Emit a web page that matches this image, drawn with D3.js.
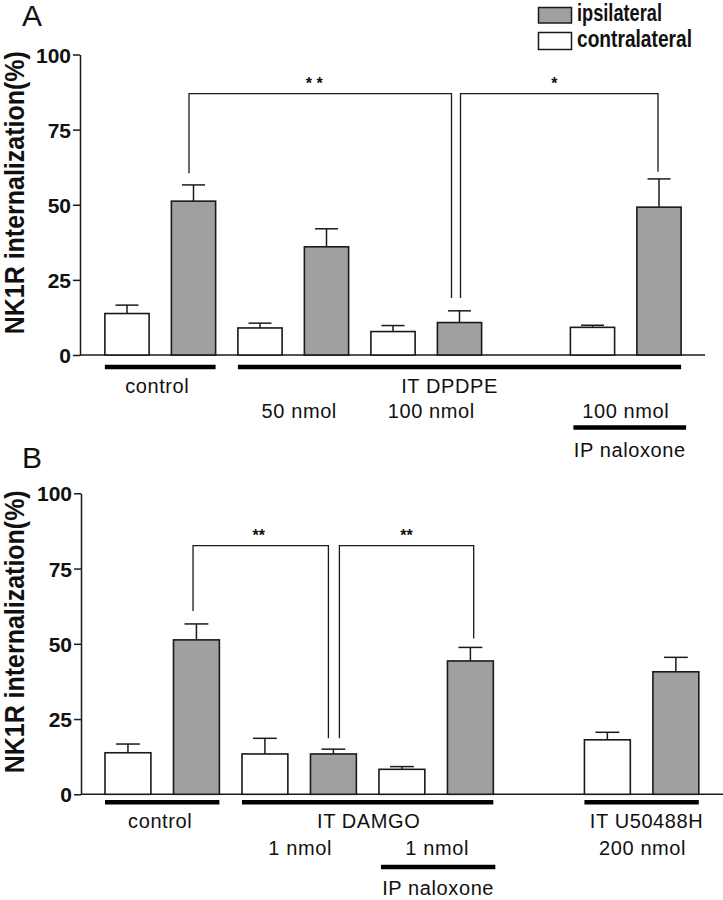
<!DOCTYPE html>
<html>
<head>
<meta charset="utf-8">
<script src="https://cdn.jsdelivr.net/npm/d3@7"></script>
<style>
  html, body { margin: 0; padding: 0; background: #fff; }
  svg { display: block; }
</style>
</head>
<body>
<svg id="chart" width="723" height="900"></svg>
<script>
// ---------- DATA ----------
const yTicks = [0, 25, 50, 75, 100];
const legendLabels = ["ipsilateral", "contralateral"];

// Panel A (IT DPDPE)
const condSlotsA = [0, 2, 4, 7];            // slot of contralateral bar; ipsilateral is slot+1
const contraA = [13.8, 9.0, 7.8, 9.2];
const contraErrA = [2.8, 1.6, 2.0, 0.7];
const ipsiA = [51.2, 36.0, 10.8, 49.2];
const ipsiErrA = [5.4, 6.0, 3.9, 9.4];

// Panel B (IT DAMGO / U50488H)
const condSlotsB = [0, 2, 4, 7];
const contraB = [13.8, 13.4, 8.3, 18.1];
const contraErrB = [2.9, 5.2, 0.9, 2.5];
const ipsiB = [51.3, 13.4, 44.3, 40.7];
const ipsiErrB = [5.3, 1.6, 4.5, 4.8];

// significance brackets: [fromSlot, toSlot, topValue, fromBottomValue, toBottomValue, label]
const bracketsA = [
  [1, 5, 87, 60.5, 19, "* *"],
  [5, 8, 87, 19, 61, "*"]
];
const bracketsB = [
  [1, 3, 82.6, 60.9, 18.6, "**"],
  [3, 5, 82.6, 18.6, 51.8, "**"]
];

// group annotations: [fromSlot, toSlot, text]
const groupsA = [
  [0, 1, "control"],
  [2, 8, "IT DPDPE"]
];
const subLabelsA = [[2, 3, "50 nmol"], [4, 5, "100 nmol"], [7, 8, "100 nmol"]];
const naloxoneA = [[7, 8, "IP naloxone"]];

const groupsB = [
  [0, 1, "control"],
  [2, 5, "IT DAMGO"],
  [7, 8, "IT U50488H"]
];
const subLabelsB = [[2, 3, "1 nmol"], [4, 5, "1 nmol"], [7, 8, "200 nmol"]];
const naloxoneB = [[4, 5, "IP naloxone"]];

const slotCount = 9;

// ---------- DRAW ----------
const svg = d3.select("#chart");
const GRAY = "#a0a0a0";
const DARK = "#1a1a1a";
const FONT = "Liberation Sans, Arial, Helvetica, sans-serif";

function panel(cfg) {
  const g = svg.append("g");
  const y = d3.scaleLinear().domain([0, 100]).range([cfg.y0, cfg.y100]);
  const x = d3.scaleBand().domain(d3.range(slotCount))
    .range(cfg.xRange).paddingInner(cfg.pad).paddingOuter(cfg.pad / 2);
  const bw = x.bandwidth();
  const cx = s => x(s) + bw / 2;

  // y axis
  const ax = g.append("g").attr("transform", `translate(${cfg.axisX},0)`)
    .call(d3.axisLeft(y).tickValues(yTicks).tickSize(7).tickSizeOuter(0).tickPadding(2));
  ax.select(".domain").attr("stroke", DARK).attr("stroke-width", 1.5);
  ax.selectAll(".tick line").attr("stroke", DARK).attr("stroke-width", 1.5);
  ax.selectAll(".tick text")
    .attr("font-family", FONT)
    .attr("font-weight", "bold").attr("font-size", 21).attr("fill", "#111")
    .attr("dy", "0.36em");

  // baseline
  g.append("line").attr("x1", cfg.axisX).attr("x2", cfg.baseEnd)
    .attr("y1", y(0)).attr("y2", y(0)).attr("stroke", DARK).attr("stroke-width", 1.5);

  // y label
  g.append("text")
    .attr("transform", `translate(${cfg.labelX},${(y(0) + y(100)) / 2 - 12}) rotate(-90)`)
    .attr("text-anchor", "middle")
    .attr("font-family", FONT)
    .attr("font-weight", "bold").attr("font-size", 27)
    .attr("textLength", 283).attr("lengthAdjust", "spacingAndGlyphs")
    .attr("fill", "#111")
    .text("NK1R internalization(%)");

  // panel letter
  g.append("text").attr("x", 22).attr("y", cfg.letterY)
    .attr("font-family", FONT)
    .attr("font-size", 30).attr("fill", "#111").text(cfg.letter);

  // bars
  const bars = [];
  cfg.slots.forEach((s, i) => {
    bars.push({ slot: s, v: cfg.contra[i], e: cfg.contraErr[i], fill: "#fff" });
    bars.push({ slot: s + 1, v: cfg.ipsi[i], e: cfg.ipsiErr[i], fill: GRAY });
  });
  g.selectAll(".err").data(bars).join("line")
    .attr("x1", d => cx(d.slot)).attr("x2", d => cx(d.slot))
    .attr("y1", d => y(d.v)).attr("y2", d => y(d.v + d.e))
    .attr("stroke", DARK).attr("stroke-width", 1.5);
  g.selectAll(".cap").data(bars).join("line")
    .attr("x1", d => cx(d.slot) - bw * 0.26).attr("x2", d => cx(d.slot) + bw * 0.26)
    .attr("y1", d => y(d.v + d.e)).attr("y2", d => y(d.v + d.e))
    .attr("stroke", DARK).attr("stroke-width", 1.5);
  g.selectAll(".bar").data(bars).join("rect")
    .attr("x", d => x(d.slot)).attr("width", bw)
    .attr("y", d => y(d.v)).attr("height", d => y(0) - y(d.v))
    .attr("fill", d => d.fill).attr("stroke", DARK).attr("stroke-width", 1.6);

  // brackets
  cfg.brackets.forEach((b, i) => {
    const [f, t, top, fb, tb, lab] = b;
    const off = cfg.bracketOffsets[i];
    const xa = cx(f) + off[0], xb = cx(t) + off[1];
    g.append("path")
      .attr("d", `M${xa},${y(fb)}V${y(top)}H${xb}V${y(tb)}`)
      .attr("fill", "none").attr("stroke", DARK).attr("stroke-width", 1.3);
    g.append("text").attr("x", (xa + xb) / 2 + cfg.starDx[i]).attr("y", y(top) - cfg.starDy)
      .attr("text-anchor", "middle")
      .attr("font-family", FONT)
      .attr("font-weight", "bold").attr("font-size", 16)
      .attr("fill", "#111").text(lab);
  });

  const lblFont = sel => sel.attr("font-family", FONT)
    .attr("font-size", 20).attr("letter-spacing", 0.6).attr("fill", "#111")
    .attr("text-anchor", "middle");

  // group lines + labels
  cfg.groups.forEach((gr, i) => {
    const [f, t, lab] = gr;
    const x1 = x(f), x2 = x(t) + bw;
    g.append("line").attr("x1", x1).attr("x2", x2)
      .attr("y1", y(0) + cfg.lineDy).attr("y2", y(0) + cfg.lineDy)
      .attr("stroke", "#000").attr("stroke-width", 4.5);
    g.append("text").attr("x", (x1 + x2) / 2 + cfg.groupDx[i])
      .attr("y", y(0) + cfg.row0Dy).call(lblFont).text(lab);
  });
  cfg.subLabels.forEach((sl, i) => {
    const [f, t, lab] = sl;
    g.append("text").attr("x", (x(f) + x(t) + bw) / 2 + cfg.subDx[i])
      .attr("y", y(0) + cfg.row1Dy).call(lblFont).text(lab);
  });
  cfg.naloxone.forEach(nl => {
    const [f, t, lab] = nl;
    const x1 = x(f) + cfg.nalLine[0], x2 = x(t) + bw + cfg.nalLine[1];
    g.append("line").attr("x1", x1).attr("x2", x2)
      .attr("y1", y(0) + cfg.nalLineDy).attr("y2", y(0) + cfg.nalLineDy)
      .attr("stroke", "#000").attr("stroke-width", 4.5);
    g.append("text").attr("x", (x1 + x2) / 2)
      .attr("y", y(0) + cfg.nalTextDy).call(lblFont).text(lab);
  });
}

panel({
  letter: "A", letterY: 26,
  y0: 355, y100: 54.5, axisX: 80, baseEnd: 705, labelX: 24,
  xRange: [93.75, 692.25], pad: 0.335,
  slots: condSlotsA, contra: contraA, contraErr: contraErrA, ipsi: ipsiA, ipsiErr: ipsiErrA,
  brackets: bracketsA, bracketOffsets: [[-4.5, -8], [1, -1]], starDx: [-6, -5], starDy: 5,
  groups: groupsA, groupDx: [-3, -10],
  subLabels: subLabelsA, subDx: [6, 5, 0],
  naloxone: naloxoneA, nalLine: [3, 5],
  lineDy: 12, row0Dy: 37.7, row1Dy: 63.3, nalLineDy: 72.5, nalTextDy: 101.7
});

panel({
  letter: "B", letterY: 468,
  y0: 794.3, y100: 493.3, axisX: 81, baseEnd: 723, labelX: 24,
  xRange: [93.7, 710.1], pad: 0.33,
  slots: condSlotsB, contra: contraB, contraErr: contraErrB, ipsi: ipsiB, ipsiErr: ipsiErrB,
  brackets: bracketsB, bracketOffsets: [[-3.4, -5], [6, 3.3]], starDx: [-2, 0], starDy: 5,
  groups: groupsB, groupDx: [-2, 1, 5],
  subLabels: subLabelsB, subDx: [1, 1, 1],
  naloxone: naloxoneB, nalLine: [2, 2],
  lineDy: 8, row0Dy: 34, row1Dy: 60.7, nalLineDy: 72.7, nalTextDy: 100.7
});

// legend
const leg = svg.append("g");
const legFills = [GRAY, "#fff"];
const legLens = [85, 115];
legendLabels.forEach((lab, i) => {
  const yy = 7.5 + i * 25;
  leg.append("rect").attr("x", 538.5).attr("y", yy).attr("width", 33).attr("height", 15.5 + i * 1.5)
    .attr("fill", legFills[i]).attr("stroke", DARK).attr("stroke-width", 1.5);
  leg.append("text").attr("x", 577).attr("y", 20.7 + i * 26)
    .attr("font-family", FONT)
    .attr("font-weight", "bold").attr("font-size", 23)
    .attr("textLength", legLens[i]).attr("lengthAdjust", "spacingAndGlyphs")
    .attr("fill", "#111").text(lab);
});
</script>
</body>
</html>
